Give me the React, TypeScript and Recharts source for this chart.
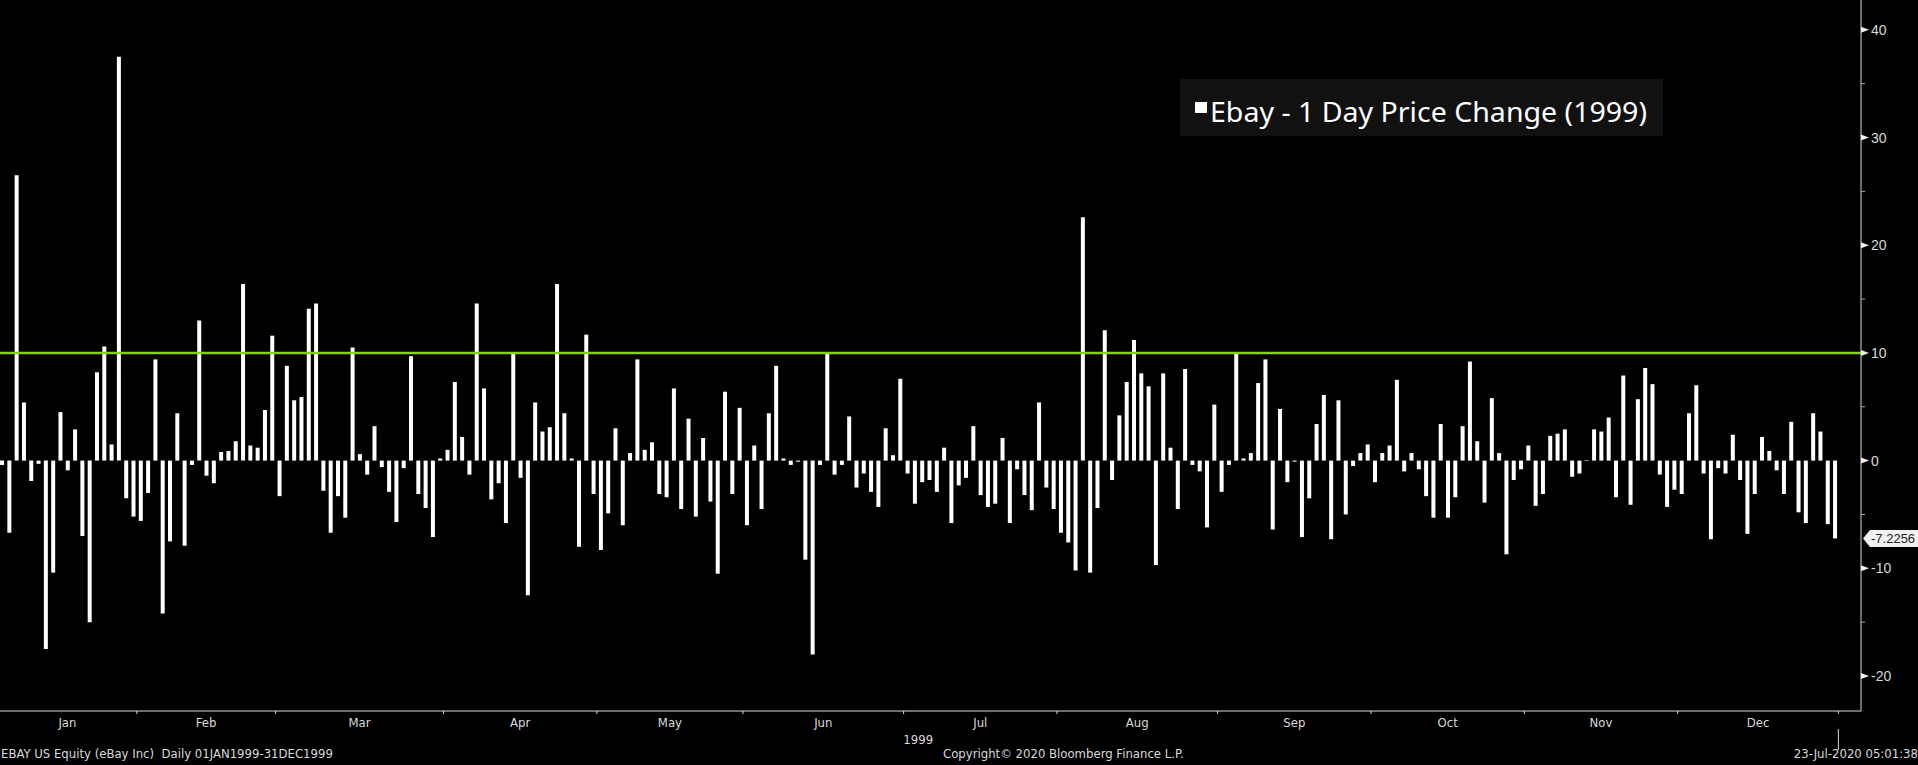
import React from "react";
import { BarChart, Bar, XAxis, YAxis, ReferenceLine } from "recharts";

// Daily % price change for EBAY, 1999 — one array per month (trading days)
const JAN = [-0.4, -6.7, 26.5, 5.4, -1.9, -0.3, -17.5, -10.4, 4.5, -0.9, 2.9, -7.0, -15.0, 8.2, 10.6, 1.5, 37.5, -3.5, -5.2];
const FEB = [-5.6, -3.0, 9.4, -14.2, -7.5, 4.4, -7.9, -0.4, 13.0, -1.4, -2.1, 0.8, 0.9, 1.8, 16.4, 1.4, 1.2, 4.7, 11.6];
const MAR = [-3.3, 8.8, 5.6, 5.9, 14.1, 14.6, -2.8, -6.7, -3.3, -5.3, 10.5, 0.6, -1.3, 3.2, -0.6, -2.9, -5.7, -0.7, 9.7, -3.1, -4.4, -7.1, 0.2];
const APR = [1.0, 7.3, 2.2, -1.3, 14.6, 6.7, -3.6, -2.1, -5.8, 9.9, -1.6, -12.5, 5.4, 2.7, 3.1, 16.4, 4.4, 0.2, -8.0, 11.7, -3.1];
const MAY = [-8.3, -4.9, 3.0, -6.0, 0.7, 9.4, 1.0, 1.7, -3.1, -3.4, 6.7, -4.5, 3.9, -5.2, 2.1, -3.8, -10.5, 6.4, -3.1, 4.9];
const JUN = [-6.0, 1.4, -4.5, 4.4, 8.8, 0.2, -0.4, -0.1, -9.2, -18.0, -0.4, 9.9, -1.3, -0.4, 4.1, -2.5, -1.2, -2.9, -4.3, 3.0, 0.5, 7.6];
const JUL = [-1.2, -4.0, -2.0, -1.8, -2.9, 1.2, -5.8, -2.3, -1.6, 3.2, -3.2, -4.3, -4.0, 2.1, -5.8, -0.8, -3.2, -4.6, 5.4, -2.5, -4.5];
const AUG = [-6.7, -7.6, -10.2, 22.6, -10.4, -4.4, 12.1, -1.8, 4.2, 7.3, 11.2, 8.1, 6.9, -9.7, 8.1, 1.2, -4.5, 8.5, -0.4, -1.0, -6.2, 5.2];
const SEP = [-2.9, -0.4, 9.9, 0.2, 0.7, 7.2, 9.4, -6.4, 4.8, -2.0, -0.1, -7.1, -3.5, 3.4, 6.1, -7.3, 5.6, -5.0, -0.5, 0.7, 1.5];
const OCT = [-2.0, 0.7, 1.4, 7.5, -1.0, 0.7, -0.8, -3.3, -5.3, 3.4, -5.3, -3.4, 3.2, 9.2, 1.8, -3.9, 5.8, 0.7, -8.7, -1.8, -0.8];
const NOV = [1.4, -4.2, -3.1, 2.3, 2.5, 2.9, -1.5, -1.2, 0.05, 2.9, 2.7, 4.0, -3.4, 7.9, -4.1, 5.7, 8.6, 7.1, -1.3, -4.3, -2.7];
const DEC = [-3.1, 4.4, 7.0, -1.2, -7.3, -0.7, -1.2, 2.4, -1.8, -6.8, -3.1, 2.2, 0.9, -0.9, -3.1, 3.6, -4.8, -5.8, 4.4, 2.7, -5.9, -7.2256];

const MONTHS = ["Jan", "Feb", "Mar", "Apr", "May", "Jun", "Jul", "Aug", "Sep", "Oct", "Nov", "Dec"];
const MONTH_VALUES = [JAN, FEB, MAR, APR, MAY, JUN, JUL, AUG, SEP, OCT, NOV, DEC];
const Y_TICKS = [-20, -15, -10, -5, 0, 5, 10, 15, 20, 25, 30, 35, 40];
const THRESHOLD = 10;
const YEAR = "1999";
const SERIES_NAME = "Ebay - 1 Day Price Change (1999)";

const values = MONTH_VALUES.flat();
const data = values.map((v, i) => ({ i, v }));
const lastValue = values[values.length - 1];

// month boundaries and centres, in trading-day index units
const bounds: number[] = [];
const mids: number[] = [];
let start = 0;
MONTH_VALUES.forEach((m) => {
  mids.push(start + (m.length - 1) / 2);
  start += m.length;
  bounds.push(start - 0.5);
});
const yearMid = (bounds[bounds.length - 1] - 0.5) / 2;

const AXIS = "#d9d9d9";
const GREEN = "#86d11e";
const COND = "'DejaVu Sans Condensed', 'Liberation Sans Narrow', 'DejaVu Sans', sans-serif";
const X_DOMAIN: [number, number] = [-0.233, 254.6];

function BoundaryTick({ x, y, payload }: any) {
  const yearEnd = payload.value === bounds[bounds.length - 1];
  return (
    <g>
      <line x1={x} x2={x} y1={y} y2={y + 3} stroke={AXIS} />
      {yearEnd && <line x1={x} x2={x} y1={y + 18} y2={y + 39} stroke={AXIS} />}
    </g>
  );
}

function MonthTick({ x, y, payload }: any) {
  const idx = mids.indexOf(payload.value);
  return (
    <text x={x} y={y + 15} textAnchor="middle" fill={AXIS} fontSize={13} fontFamily={COND} style={{ fontStretch: "condensed" }}>
      {MONTHS[idx]}
    </text>
  );
}

function YearTick({ x, y }: any) {
  return (
    <text x={x} y={y + 12.5} textAnchor="middle" fill={AXIS} fontSize={13} fontFamily={COND} style={{ fontStretch: "condensed" }}>
      {YEAR}
    </text>
  );
}

function ValueTick({ x, y, payload }: any) {
  const v = payload.value;
  if (v === lastValue) {
    return (
      <g>
        <polygon
          points={`${x + 2},${y} ${x + 9},${y - 8.5} ${x + 57},${y - 8.5} ${x + 57},${y + 8.5} ${x + 9},${y + 8.5}`}
          fill="#f2f2f2"
        />
        <text x={x + 10} y={y + 5} fill="#222" fontSize={13} fontFamily="'Liberation Sans', sans-serif">
          {v.toFixed(4)}
        </text>
      </g>
    );
  }
  if (v % 10 === 0) {
    return (
      <g>
        <polygon points={`${x},${y - 3} ${x + 8},${y} ${x},${y + 3}`} fill="#eeeeee" />
        <text x={x + 10} y={y + 5} fill={AXIS} fontSize={14} fontFamily="'Liberation Sans', sans-serif">
          {v}
        </text>
      </g>
    );
  }
  return <line x1={x} x2={x + 4} y1={y} y2={y} stroke="#aaaaaa" />;
}

function LegendBox() {
  return (
    <div style={{ position: "absolute", left: 1180, top: 79, width: 483, height: 57, background: "#111111" }}>
      <svg width={483} height={57} style={{ display: "block" }}>
        <rect x={15} y={23} width={12} height={11} fill="#ffffff" />
        <text
          x={30}
          y={43}
          fill="#ffffff"
          fontSize={27}
          fontFamily="'Noto Sans', 'Open Sans', sans-serif"
          textLength={437}
          lengthAdjust="spacingAndGlyphs"
        >
          {SERIES_NAME}
        </text>
      </svg>
    </div>
  );
}

export default function App() {
  const footer = {
    position: "absolute" as const,
    top: 747,
    fontSize: 13,
    color: AXIS,
    fontFamily: COND,
    fontStretch: "condensed",
    lineHeight: "14px",
    whiteSpace: "nowrap" as const,
  };
  return (
    <div style={{ position: "relative", width: 1918, height: 765, background: "#000" }}>
      <style>{`body{margin:0;background:#000}`}</style>
      <BarChart width={1918} height={765} data={data} margin={{ top: 0, right: 0, left: 0, bottom: 0 }}>
        <XAxis
          xAxisId="a"
          dataKey="i"
          type="number"
          domain={X_DOMAIN}
          ticks={bounds}
          height={1}
          stroke={AXIS}
          tickLine={false}
          tickSize={0}
          tickMargin={0}
          tick={<BoundaryTick />}
          interval={0}
        />
        <XAxis
          xAxisId="m"
          dataKey="i"
          type="number"
          domain={X_DOMAIN}
          ticks={mids}
          height={19}
          axisLine={false}
          tickLine={false}
          tickSize={0}
          tickMargin={0}
          tick={<MonthTick />}
          interval={0}
        />
        <XAxis
          xAxisId="y"
          dataKey="i"
          type="number"
          domain={X_DOMAIN}
          ticks={[yearMid]}
          height={34}
          axisLine={false}
          tickLine={false}
          tickSize={0}
          tickMargin={0}
          tick={<YearTick />}
          interval={0}
        />
        <YAxis
          orientation="right"
          width={57}
          domain={[-23.25, 42.77]}
          ticks={[...Y_TICKS, lastValue]}
          stroke={AXIS}
          tickLine={false}
          tickSize={0}
          tickMargin={0}
          tick={<ValueTick />}
          interval={0}
        />
        <Bar xAxisId="a" dataKey="v" name={SERIES_NAME} fill="#ffffff" barSize={4} isAnimationActive={false} />
        <ReferenceLine xAxisId="a" y={THRESHOLD} stroke={GREEN} strokeWidth={2.5} />
      </BarChart>
      <LegendBox />
      <div style={{ ...footer, left: 1 }}>EBAY US Equity (eBay Inc)&nbsp;&nbsp;Daily 01JAN1999-31DEC1999</div>
      <div style={{ ...footer, left: 943 }}>Copyright© 2020 Bloomberg Finance L.P.</div>
      <div style={{ ...footer, right: 0 }}>23-Jul-2020 05:01:38</div>
    </div>
  );
}
